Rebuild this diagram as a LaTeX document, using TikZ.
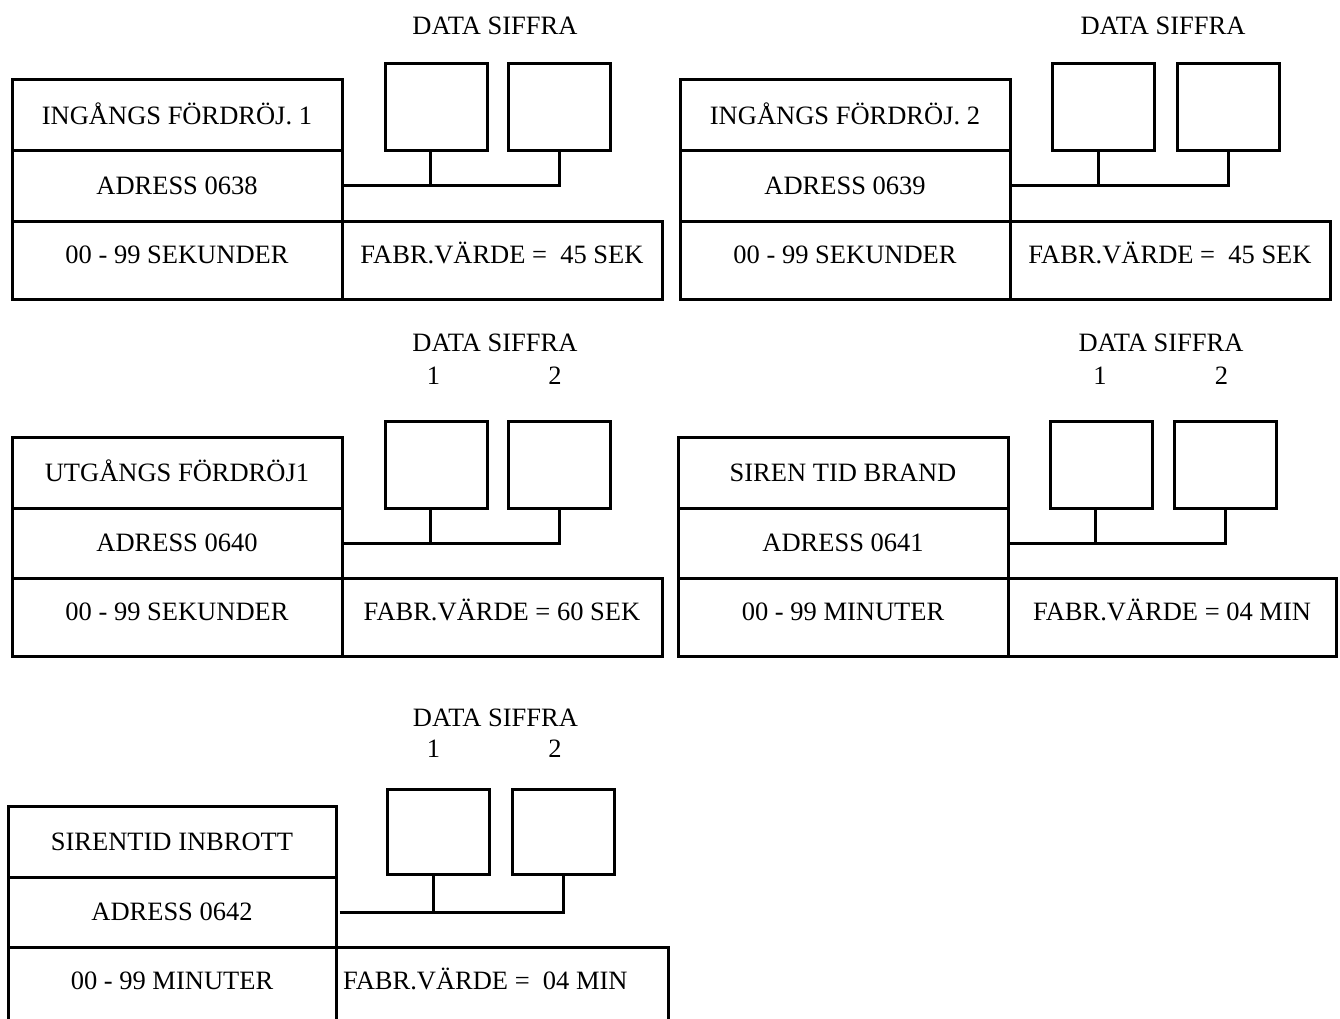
\documentclass[tikz,border=0pt]{standalone}
\usepackage{fontspec}
\setmainfont{Liberation Serif}

\begin{document}
\begin{tikzpicture}[x=1pt,y=-1pt,font=\fontsize{26.5}{31}\selectfont]
\useasboundingbox (0,0) rectangle (1340,1019);

\begin{scope}[
    every node/.style={rectangle,draw=black,line width=3pt,inner sep=0pt,
                       text height=17.5pt,text depth=0pt}]
    % % 1st block
    \node (t1) at (177, 115.5) [minimum width=330pt,minimum height=71pt] {INGÅNGS FÖRDRÖJ. 1};
    \node (a1) at (177, 186) [minimum width=330pt,minimum height=70pt] {ADRESS 0638};
    \node (r1) at (177, 260) [minimum width=330pt,minimum height=78pt,text depth=10pt] {00 - 99 SEKUNDER};
    \node (f1) at (502, 260) [minimum width=320pt,minimum height=78pt,text depth=10pt] {FABR.VÄRDE =\ \ 45 SEK};
    \node (d11) at (436, 107.5) [minimum width=102pt,minimum height=87pt] {};
    \node (d12) at (559.5, 107.5) [minimum width=102pt,minimum height=87pt] {};

    % % 2nd block
    \node (t2) at (845, 115.5) [minimum width=330pt,minimum height=71pt] {INGÅNGS FÖRDRÖJ. 2};
    \node (a2) at (845, 186) [minimum width=330pt,minimum height=70pt] {ADRESS 0639};
    \node (r2) at (845, 260) [minimum width=330pt,minimum height=78pt,text depth=10pt] {00 - 99 SEKUNDER};
    \node (f2) at (1170, 260) [minimum width=320pt,minimum height=78pt,text depth=10pt] {FABR.VÄRDE =\ \ 45 SEK};
    \node (d21) at (1103.5, 107.5) [minimum width=102pt,minimum height=87pt] {};
    \node (d22) at (1228, 107.5) [minimum width=102pt,minimum height=87pt] {};

    % % 3rd block
    \node (t3) at (177, 472.5) [minimum width=330pt,minimum height=71pt] {UTGÅNGS FÖRDRÖJ1};
    \node (a3) at (177, 543) [minimum width=330pt,minimum height=70pt] {ADRESS 0640};
    \node (r3) at (177, 617) [minimum width=330pt,minimum height=78pt,text depth=10pt] {00 - 99 SEKUNDER};
    \node (f3) at (502, 617) [minimum width=320pt,minimum height=78pt,text depth=10pt] {FABR.VÄRDE = 60 SEK};
    \node (d31) at (436, 464.5) [minimum width=102pt,minimum height=87pt] {};
    \node (d32) at (559.5, 464.5) [minimum width=102pt,minimum height=87pt] {};

    % % 4th block
    \node (t4) at (843, 472.5) [minimum width=330pt,minimum height=71pt] {SIREN TID BRAND};
    \node (a4) at (843, 543) [minimum width=330pt,minimum height=70pt] {ADRESS 0641};
    \node (r4) at (843, 617) [minimum width=330pt,minimum height=78pt,text depth=10pt] {00 - 99 MINUTER};
    \node (f4) at (1172, 617) [minimum width=328pt,minimum height=78pt,text depth=10pt] {FABR.VÄRDE = 04 MIN};
    \node (d41) at (1101.5, 464.5) [minimum width=102pt,minimum height=87pt] {};
    \node (d42) at (1225.5, 464.5) [minimum width=102pt,minimum height=87pt] {};

    % % 5th block
    \node (t5) at (172, 841.5) [minimum width=328pt,minimum height=71pt] {SIRENTID INBROTT};
    \node (a5) at (172, 912) [minimum width=328pt,minimum height=70pt] {ADRESS 0642};
    \node (r5) at (172, 992) [minimum width=328pt,minimum height=90pt,text depth=22pt] {00 - 99 MINUTER};
    \node (f5) at (502, 992) [minimum height=90pt,text depth=22pt,text width=318pt,
                              align=flush left,inner xsep=7pt] {FABR.VÄRDE =\ \ 04 MIN};
    \node (d51) at (438.5, 832) [minimum width=102pt,minimum height=85pt] {};
    \node (d52) at (563.5, 832) [minimum width=102pt,minimum height=85pt] {};
\end{scope}

\begin{scope}[every node/.style={inner sep=0pt}]
    \node (h1) at (495, 26) {DATA SIFFRA};
    \node (h2) at (1163, 26) {DATA SIFFRA};
    \node (h3) at (495, 343) {DATA SIFFRA};
    \node (n31) at (433.5, 376) {1};
    \node (n32) at (555, 376) {2};
    \node (h4) at (1161, 343) {DATA SIFFRA};
    \node (n41) at (1100, 376) {1};
    \node (n42) at (1221.5, 376) {2};
    \node (h5) at (495.5, 718) {DATA SIFFRA};
    \node (n51) at (433.5, 749) {1};
    \node (n52) at (555, 749) {2};
\end{scope}

\begin{scope}[line width=3pt]
    \draw (a1.east) -| (d12.south);
    \draw ([xshift=-6pt]d11.south) -- ([xshift=-6pt]d11.south |- a1.east);

    \draw (a2.east) -| (d22.south);
    \draw ([xshift=-5pt]d21.south) -- ([xshift=-5pt]d21.south |- a2.east);

    \draw (a3.east) -| (d32.south);
    \draw ([xshift=-6pt]d31.south) -- ([xshift=-6pt]d31.south |- a3.east);

    \draw (a4.east) -| (d42.south);
    \draw ([xshift=-6pt]d41.south) -- ([xshift=-6pt]d41.south |- a4.east);

    \draw ([xshift=2pt]a5.east) -| (d52.south);
    \draw ([xshift=-5.5pt]d51.south) -- ([xshift=-5.5pt]d51.south |- a5.east);
\end{scope}
\end{tikzpicture}
\end{document}
